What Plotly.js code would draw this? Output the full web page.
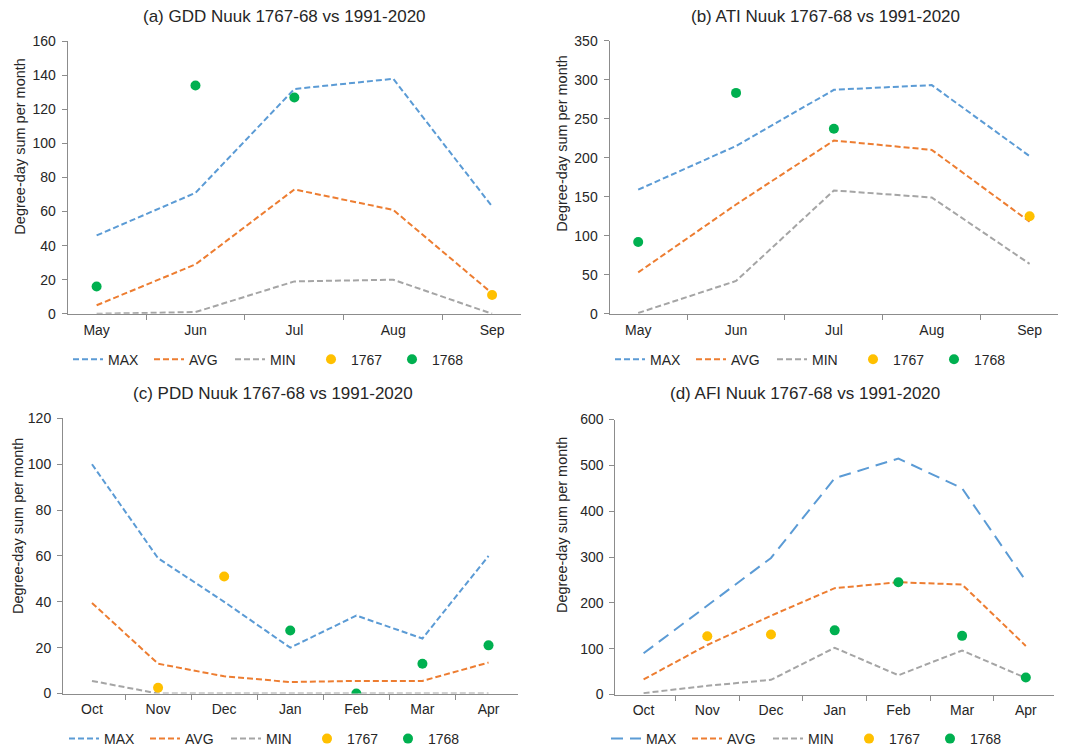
<!DOCTYPE html>
<html>
<head>
<meta charset="utf-8">
<script src="https://cdn.plot.ly/plotly-3.0.1.min.js"></script>
<style>html,body{margin:0;padding:0;background:#fff;}#chart{width:1066px;height:755px;}</style>
</head>
<body>
<div id="chart"></div>
<script>
// ---- Data ----
const summerMonths = ["May", "Jun", "Jul", "Aug", "Sep"];
const winterMonths = ["Oct", "Nov", "Dec", "Jan", "Feb", "Mar", "Apr"];

// (a) GDD
const gddMax = [46, 71, 132, 138, 63];
const gddAvg = [5, 29, 73, 61, 12];
const gddMin = [0, 1, 19, 20, 0];
const gdd1767 = [null, null, null, null, 11];
const gdd1768 = [16, 134, 127, null, null];

// (b) ATI
const atiMax = [159, 215, 287, 293, 202];
const atiAvg = [53, 140, 222, 210, 118];
const atiMin = [1, 42, 158, 149, 64];
const ati1767 = [null, null, null, null, 125];
const ati1768 = [92, 283, 237, null, null];

// (c) PDD
const pddMax = [100, 59, 40, 20, 34, 24, 60];
const pddAvg = [39.5, 13, 7.5, 5, 5.5, 5.5, 13.5];
const pddMin = [5.5, 0, 0, 0, 0, 0, 0];
const pdd1767 = [null, 2.5, 51, null, null, null, null];
const pdd1768 = [null, null, null, 27.5, 0, 13, 21];

// (d) AFI
const afiMax = [90, 193, 298, 472, 515, 450, 248];
const afiAvg = [33, 108, 172, 232, 245, 240, 106];
const afiMin = [3, 19, 32, 102, 42, 96, 36];
const afi1767 = [null, 127, 131, null, null, null, null];
const afi1768 = [null, null, null, 140, 245, 128, 37];

const panelTitles = [
  "(a) GDD Nuuk 1767-68 vs 1991-2020",
  "(b) ATI Nuuk 1767-68 vs 1991-2020",
  "(c) PDD Nuuk 1767-68 vs 1991-2020",
  "(d) AFI Nuuk 1767-68 vs 1991-2020"
];
const yTitle = "Degree-day sum per month";

// ---- Styles ----
const C_MAX = "#5B9BD5", C_AVG = "#ED7D31", C_MIN = "#A5A5A5", C_1767 = "#FFC000", C_1768 = "#00B050";
const FONT = "Liberation Sans, Arial, sans-serif";
const TXT = "#262626";
const W = 1066, H = 755;

function panel(idx, x, mx, av, mn, y67, y68, maxDash) {
  const ax = idx === 1 ? "" : String(idx);
  const leg = idx === 1 ? "legend" : "legend" + idx;
  const common = {xaxis: "x" + ax, yaxis: "y" + ax, legend: leg, hoverinfo: "x+y"};
  return [
    Object.assign({x: x, y: mx, name: "MAX", mode: "lines", line: {color: C_MAX, width: 2, dash: maxDash}}, common),
    Object.assign({x: x, y: av, name: "AVG", mode: "lines", line: {color: C_AVG, width: 2, dash: "6px,3px"}}, common),
    Object.assign({x: x, y: mn, name: "MIN", mode: "lines", line: {color: C_MIN, width: 2, dash: "6px,3px"}}, common),
    Object.assign({x: x, y: y67, name: "1767", mode: "markers", marker: {color: C_1767, size: 10}}, common),
    Object.assign({x: x, y: y68, name: "1768", mode: "markers", marker: {color: C_1768, size: 10}}, common)
  ];
}

const data = [].concat(
  panel(1, summerMonths, gddMax, gddAvg, gddMin, gdd1767, gdd1768, "6px,3px"),
  panel(2, summerMonths, atiMax, atiAvg, atiMin, ati1767, ati1768, "6px,3px"),
  panel(3, winterMonths, pddMax, pddAvg, pddMin, pdd1767, pdd1768, "6px,3px"),
  panel(4, winterMonths, afiMax, afiAvg, afiMin, afi1767, afi1768, "12px,7px")
);

function px(v) { return v / W; }
function py(v) { return 1 - v / H; }

function xax(x0, x1, anchor) {
  return {
    domain: [px(x0), px(x1)], anchor: anchor, type: "category",
    showgrid: false, zeroline: false, showline: true, linecolor: "#8C8C8C", linewidth: 1,
    ticks: "outside", tickson: "boundaries", ticklen: 5, tickcolor: "#8C8C8C",
    ticklabelstandoff: 3,
    tickfont: {family: FONT, size: 14, color: TXT}, fixedrange: true
  };
}
function yax(y0, y1, anchor, range, dtick) {
  return {
    domain: [py(y1), py(y0)], anchor: anchor, range: range, dtick: dtick, tick0: 0,
    showgrid: false, zeroline: false, showline: true, linecolor: "#8C8C8C", linewidth: 1,
    ticks: "outside", ticklen: 5, tickcolor: "#8C8C8C",
    ticklabelstandoff: 3,
    tickfont: {family: FONT, size: 14, color: TXT},
    fixedrange: true
  };
}
function legend(xpix, ypix) {
  return {
    orientation: "h", x: px(xpix), y: py(ypix), xanchor: "left", yanchor: "middle",
    font: {family: FONT, size: 14, color: TXT},
    entrywidth: 36, entrywidthmode: "pixels", itemwidth: 30,
    bgcolor: "rgba(0,0,0,0)", traceorder: "normal", tracegroupgap: 0
  };
}
function titleAnn(text, xc, yc) {
  return {text: text, x: px(xc), y: py(yc), xref: "paper", yref: "paper", xanchor: "center", yanchor: "middle",
    showarrow: false, font: {family: FONT, size: 17, color: TXT}};
}
function yTitleAnn(xc, yc) {
  return {text: yTitle, x: px(xc), y: py(yc), xref: "paper", yref: "paper", xanchor: "center", yanchor: "middle",
    textangle: -90, showarrow: false, font: {family: FONT, size: 14.5, color: TXT}};
}

const layout = {
  width: W, height: H,
  margin: {l: 0, r: 0, t: 0, b: 0},
  paper_bgcolor: "#fff", plot_bgcolor: "#fff",
  font: {family: FONT, color: TXT},
  showlegend: true,
  xaxis: xax(67.7, 521, "y"),
  yaxis: yax(41.7, 316.7, "x", [0, 160], 20),
  xaxis2: xax(609.5, 1058.3, "y2"),
  yaxis2: yax(41, 316.7, "x2", [0, 350], 50),
  xaxis3: xax(63, 517.5, "y3"),
  yaxis3: yax(422.3, 700, "x3", [0, 120], 20),
  xaxis4: xax(615.4, 1054, "y4"),
  yaxis4: yax(423.5, 701, "x4", [0, 600], 100),
  legend: legend(68, 363),
  legend2: legend(610, 363),
  legend3: legend(64, 746),
  legend4: legend(606, 746),
  annotations: [
    titleAnn(panelTitles[0], 284, 17),
    titleAnn(panelTitles[1], 825, 17),
    titleAnn(panelTitles[2], 273, 397),
    titleAnn(panelTitles[3], 805, 397),
    yTitleAnn(20, 148),
    yTitleAnn(562, 145),
    yTitleAnn(18, 531),
    yTitleAnn(562, 530)
  ]
};

Plotly.newPlot("chart", data, layout, {displayModeBar: false, staticPlot: true});
</script>
</body>
</html>
